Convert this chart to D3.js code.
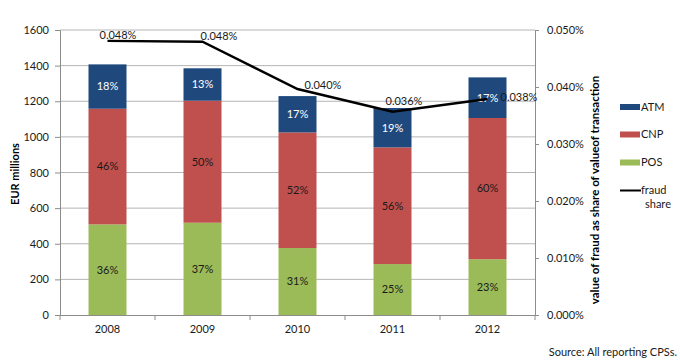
<!DOCTYPE html>
<html><head><meta charset="utf-8">
<script src="https://cdn.jsdelivr.net/npm/d3@7"></script>
<style>
body{margin:0;background:#fff;}
text{font-family:Lato, "Open Sans", sans-serif;}
</style></head>
<body><svg id="c" width="680" height="363"></svg>
<script>
const years = ["2008","2009","2010","2011","2012"];
const posValues = [509, 518, 376, 286, 313];
const cnpValues = [649, 685, 649, 655, 793];
const atmValues = [249, 182, 204, 221, 228];
const posPct = ["36%","37%","31%","25%","23%"];
const cnpPct = ["46%","50%","52%","56%","60%"];
const atmPct = ["18%","13%","17%","19%","17%"];
// fraud share in percent
const fraudShare = [0.0481, 0.04795, 0.03965, 0.03567, 0.03789];
const fraudLabels = ["0.048%","0.048%","0.040%","0.036%","0.038%"];
const leftTicks = [0,200,400,600,800,1000,1200,1400,1600];
const rightTicks = [0,0.01,0.02,0.03,0.04,0.05];
// layout offsets for line labels (px)
const labelOffsets = [[-8,-6],[-2,-6],[7,-4],[-7,-11],[13,-2]];

const svg = d3.select("#c");
const L = 60, R = 535, T = 30, B = 315;
const x = d3.scaleBand().domain(years).range([L,R]).paddingInner(0.6).paddingOuter(0.3);
const xb = d3.scaleBand().domain(years).range([L,R]);
const y = d3.scaleLinear().domain([0,1600]).range([B,T]);
const y2 = d3.scaleLinear().domain([0,0.05]).range([B,T]);
const gridC = "#b5b5b5", axisC = "#8c8c8c";

// gridlines
svg.append("g").selectAll("line").data(leftTicks.filter(d=>d>0)).join("line")
  .attr("x1",L).attr("x2",R).attr("y1",d=>y(d)).attr("y2",d=>y(d))
  .attr("stroke",gridC).attr("stroke-width",1);

// bars
const series = [
  {name:"POS", pct:posPct, color:"#9bbb59", tc:"#1a1a1a"},
  {name:"CNP", pct:cnpPct, color:"#c0504d", tc:"#1a1a1a"},
  {name:"ATM", pct:atmPct, color:"#1f497d", tc:"#ffffff"}
];
const stackData = years.map((yr,i)=>({year:yr, POS:posValues[i], CNP:cnpValues[i], ATM:atmValues[i]}));
const stacked = d3.stack().keys(["POS","CNP","ATM"])(stackData);
stacked.forEach((layer,k)=>{
  const s = series[k];
  const g = svg.append("g");
  g.selectAll("rect").data(layer).join("rect")
    .attr("x",d=>x(d.data.year)).attr("width",x.bandwidth())
    .attr("y",d=>y(d[1])).attr("height",d=>y(d[0])-y(d[1]))
    .attr("fill",s.color);
  g.selectAll("text").data(layer).join("text")
    .attr("x",d=>x(d.data.year)+x.bandwidth()/2)
    .attr("y",d=>(y(d[0])+y(d[1]))/2).attr("dy","0.35em")
    .attr("text-anchor","middle").attr("font-size",11).attr("fill",s.tc)
    .text((d,i)=>s.pct[i]);
});

// axes
const axL = svg.append("g").attr("transform",`translate(${L},0)`)
  .call(d3.axisLeft(y).tickValues(leftTicks).tickSize(5).tickPadding(6).tickFormat(d3.format("d")));
const axR = svg.append("g").attr("transform",`translate(${R},0)`)
  .call(d3.axisRight(y2).tickValues(rightTicks).tickSize(4).tickPadding(8).tickFormat(d=>d.toFixed(3)+"%"));
const axB = svg.append("g").attr("transform",`translate(0,${B})`)
  .call(d3.axisBottom(xb).tickSize(0).tickPadding(10));
// x ticks at band boundaries
svg.append("g").selectAll("line").data(years.concat(["end"])).join("line")
  .attr("x1",(d,i)=>L+i*xb.bandwidth()).attr("x2",(d,i)=>L+i*xb.bandwidth())
  .attr("y1",B).attr("y2",B+5).attr("stroke",axisC);
[axL,axR,axB].forEach(a=>{
  a.selectAll("path").attr("stroke",axisC);
  a.selectAll(".tick line").attr("stroke",axisC);
  a.selectAll("text").attr("font-family","Lato, sans-serif").attr("font-size",11).attr("fill","#1a1a1a");
});

// line
const line = d3.line().x((d,i)=>xb(years[i])+xb.bandwidth()/2).y(d=>y2(d));
svg.append("path").datum(fraudShare).attr("d",line)
  .attr("fill","none").attr("stroke","#000").attr("stroke-width",2.4);
svg.append("g").selectAll("text").data(fraudShare).join("text")
  .attr("x",(d,i)=>xb(years[i])+xb.bandwidth()/2+labelOffsets[i][0])
  .attr("y",(d,i)=>y2(d)+labelOffsets[i][1]).attr("dy","0.35em")
  .attr("font-size",11).attr("fill","#1a1a1a")
  .text((d,i)=>fraudLabels[i]);

// axis titles
svg.append("text").attr("transform","translate(15,174) rotate(-90)")
  .attr("text-anchor","middle").attr("dy","0.35em").attr("font-size",11).attr("font-weight","bold")
  .text("EUR millions");
svg.append("text").attr("transform","translate(595,190) rotate(-90)")
  .attr("text-anchor","middle").attr("dy","0.35em").attr("font-size",11.5).attr("font-weight","bold")
  .text("value of fraud as share of valueof transaction");

// legend
const legItems = [{n:"ATM",c:"#1f497d",y:107},{n:"CNP",c:"#c0504d",y:134.5},{n:"POS",c:"#9bbb59",y:162.5}];
const lg = svg.append("g");
legItems.forEach(it=>{
  lg.append("rect").attr("x",620).attr("y",it.y-3).attr("width",20).attr("height",6).attr("fill",it.c);
  lg.append("text").attr("x",641).attr("y",it.y).attr("dy","0.35em").attr("font-size",11).attr("fill","#1a1a1a").text(it.n);
});
lg.append("line").attr("x1",620).attr("x2",641).attr("y1",190.5).attr("y2",190.5).attr("stroke","#000").attr("stroke-width",2);
lg.append("text").attr("x",641).attr("y",190.5).attr("dy","0.35em").attr("font-size",11).attr("fill","#1a1a1a").text("fraud");
lg.append("text").attr("x",645).attr("y",204.5).attr("dy","0.35em").attr("font-size",11).attr("fill","#1a1a1a").text("share");

// source
svg.append("text").attr("x",677).attr("y",356).attr("text-anchor","end").attr("font-size",11).attr("fill","#1a1a1a")
  .text("Source: All reporting CPSs.");
</script></body></html>
